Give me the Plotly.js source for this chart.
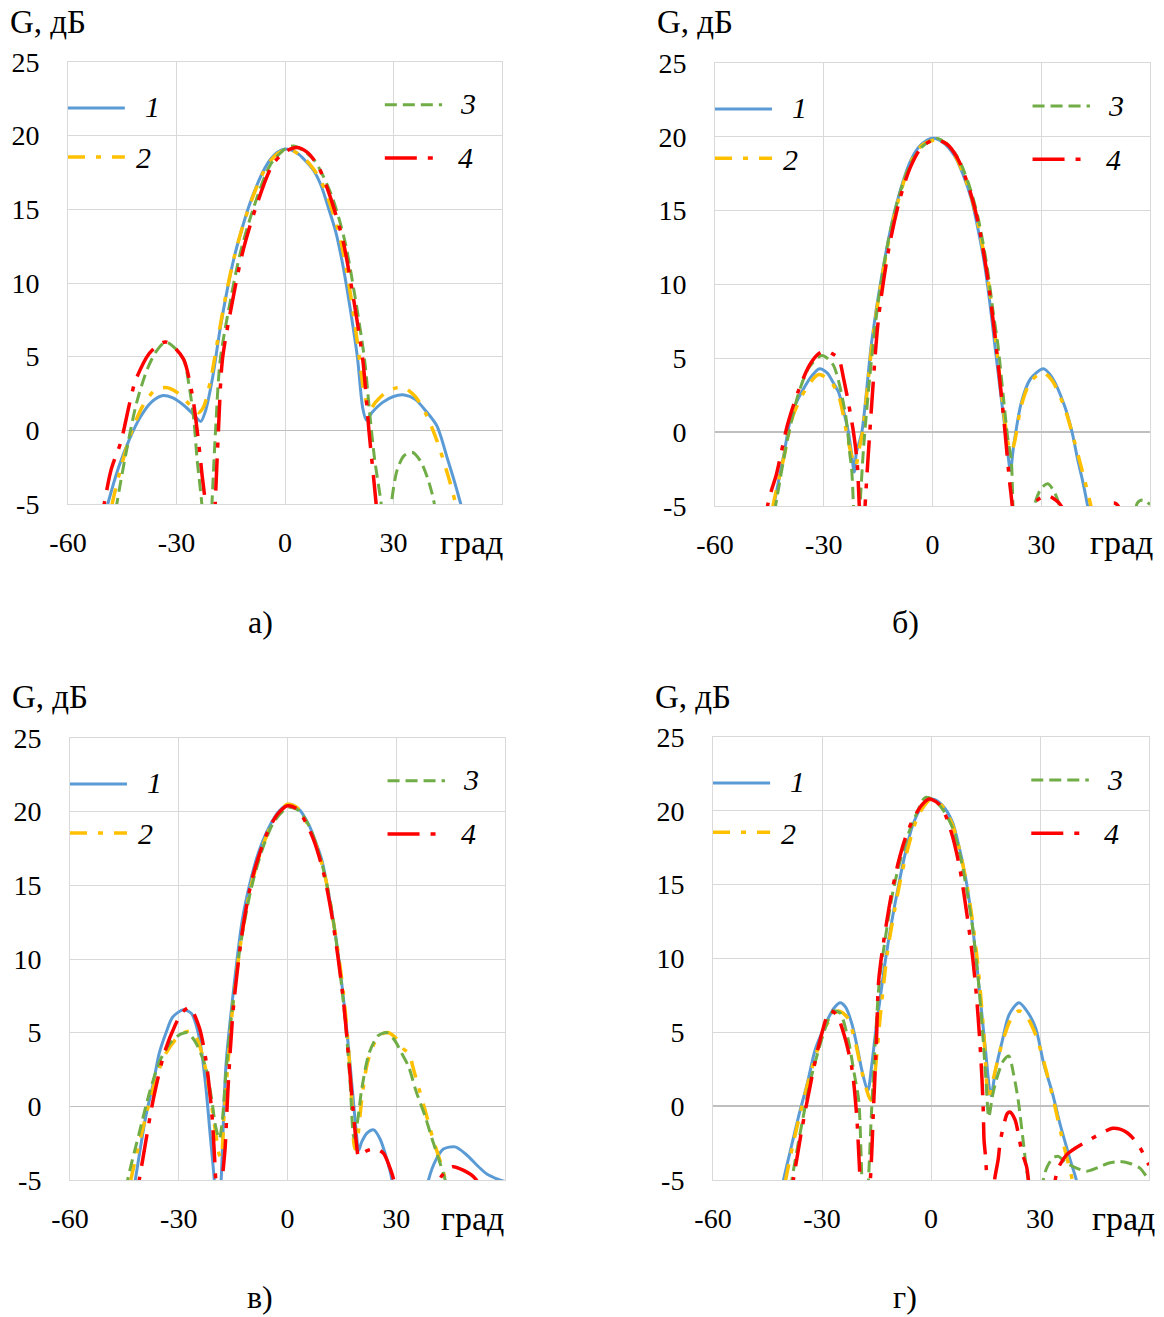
<!DOCTYPE html>
<html><head><meta charset="utf-8">
<script src="https://cdn.plot.ly/plotly-3.0.1.min.js"></script>
<style>html,body{margin:0;padding:0;background:#fff}#chart{width:1164px;height:1317px}</style>
</head><body><div id="chart"></div>
<script>
// ---- axis ticks ----
const xTickVals = [-60, -30, 0, 30];
const xTickText = ['-60', '-30', '0', '30'];
const yTickVals = [-5, 0, 5, 10, 15, 20, 25];
const yTickText = ['-5', '0', '5', '10', '15', '20', '25'];
const seriesLabels = ['1', '2', '3', '4'];
const panelLabels = ['а)', 'б)', 'в)', 'г)'];
const yTitle = 'G, дБ';
const xTitle = 'град';

// ---- panel a ----
const ang_a1 = [-52,-49,-46,-43,-40,-37,-34,-31,-28,-25,-23.3,-22,-20,-18,-16,-14,-12,-10,-8,-6,-4,-2,0,2,4,6,8,10,12,14,16,18,20,21.5,22.5,24,27,30,33,36,39,42,45,47,48.6,51];
const g_a1 = [-8,-5,-2.5,-0.6,0.9,1.9,2.35,2.2,1.7,1.0,0.6,1.3,3.6,6.8,9.5,11.8,13.6,15.2,16.5,17.6,18.4,18.9,19.1,19.0,18.7,18.2,17.6,16.6,15.1,13.5,11.2,8.3,5.0,1.5,0.7,1.2,1.9,2.3,2.4,2.1,1.3,0.3,-2.0,-3.6,-5,-7];
const ang_a2 = [-50,-47.8,-45,-42,-39,-36,-33,-30,-27,-25,-23.9,-22.5,-20.5,-18.5,-16,-14,-12,-10,-8,-6,-4,-2,0,2,4,6,8,10,12,14,16,18,20,22,23.4,25,28,31,33,36,39,42,45,47.2,50];
const g_a2 = [-8,-5,-2.2,0.2,1.8,2.7,2.9,2.6,1.9,1.4,1.2,1.6,3.5,6.3,9.6,11.8,13.6,15.1,16.4,17.5,18.3,18.8,19.0,19.0,18.7,18.3,17.7,16.9,15.7,14.2,12.2,9.4,6.0,2.4,1.4,1.9,2.6,2.9,2.9,2.3,1.1,-0.7,-3.0,-5,-8];
const ang_a3 = [-49,-46.5,-44,-41,-38,-35.5,-33,-30.5,-28,-26.5,-25.2,-24.3,-23,-22,-21,-20.2,-19.2,-17.9,-15.1,-12.4,-8.7,-4.1,0,2.3,5,8.2,12.8,16.5,19.2,22,23.4,24.8,26.6,28,29.4,31,33,35.3,37.5,39.5,41.3,43];
const g_a3 = [-9,-5,-1.6,1.9,4.2,5.4,6.0,5.6,4.8,3.0,0.7,-2,-5,-9,-9,-5,0,4.8,8.8,12,15.1,18,19.1,19.3,19.0,18.3,16,12.9,9.3,4.8,1.2,-2,-5,-9,-5,-2.7,-1.7,-1.5,-2.1,-3.3,-5,-9];
const ang_a4 = [-52,-50,-48,-45.4,-43,-41.3,-37.6,-35,-33,-30.5,-28,-25.7,-23.9,-22.9,-22,-21,-20,-19.3,-18.4,-17.3,-14.5,-11.8,-8.1,-3.5,0,3.2,6,9,12.3,16,18.7,21.5,23.2,25.2,26.5];
const g_a4 = [-8,-5,-2.6,-0.8,1.8,3.4,5.2,5.8,6.0,5.6,4.8,2.5,-0.8,-3.1,-5,-9,-9,-5,0,4.8,8.8,12,15.1,18,18.9,19.2,18.9,18.0,16,12.9,9.3,4.8,0,-5,-9];

// ---- panel b ----
const ang_b1 = [-46,-43.8,-41,-38.7,-35.1,-33,-31.2,-29,-27.5,-25.9,-24.5,-23.2,-22.3,-21.6,-21,-19.5,-16.8,-14,-10.3,-5.8,-3,0,3,6.1,8.5,10.7,12.6,14.4,15.8,17.1,18.5,19.9,20.8,21.5,22.4,24.5,27,30.6,33,36.4,38.5,40,41.5,42.8,45];
const g_b1 = [-8,-5,-1.5,1.35,3.15,3.9,4.3,4.0,3.4,2.7,1.4,0,-1.5,-2.7,-1.4,0,6.1,10.6,15.1,18.5,19.5,19.9,19.6,18.7,17.4,15.8,13.7,11.3,8.8,6.1,3.2,0.45,-1.5,-2.6,-0.9,2,3.6,4.3,3.7,1.8,0,-1.8,-3.4,-5,-8];
const ang_b2 = [-46,-44,-41,-38.5,-35,-31.4,-28,-25.8,-23.5,-22.2,-21.2,-20.3,-19.3,-16.6,-14,-10.3,-5.8,-3,1,4,6.5,9,11,13,14.8,16.2,17.5,18.9,20.2,21,21.8,22.7,24.5,27,30.4,33,36.5,39,41.5,43.7,46];
const g_b2 = [-8,-5,-1.7,1.1,2.9,3.9,3.4,2.4,-0.3,-1.7,-2.3,-1.2,0,6.1,10.4,14.9,18.4,19.4,19.8,19.5,18.6,17.2,15.7,13.6,11.2,8.8,6.1,3.0,0.3,-0.9,-1.3,-0.6,1.8,3.4,4.05,3.5,1.6,-0.5,-2.8,-5,-8];
const ang_b3 = [-46,-43.3,-40,-37,-34,-30.5,-27.5,-24.1,-22.8,-22.3,-21.8,-21,-20,-19,-17,-15,-12,-9,-6,-3,1.1,4,7,10,12.5,15,16.8,18,19.5,20.8,21.7,22.2,23,27,28.1,30,31.8,33.5,35,36,54,56.5,58,60];
const g_b3 = [-9,-5,-0.5,2.6,4.4,5.2,4.6,1.35,-1.5,-2.5,-5,-9,-5,-1,4.5,8.8,13.2,16.2,18.2,19.3,19.9,19.5,18.6,16.8,14.6,11.3,8.0,6.0,2.5,-0.5,-1.8,-5,-9,-9,-5,-3.8,-3.5,-4,-5,-9,-9,-4.8,-4.6,-4.9];
const ang_b4 = [-47,-45.5,-44.5,-43.1,-40,-37,-34,-31.5,-29.4,-27.5,-25.9,-24.5,-23.2,-21.8,-20.8,-20.2,-19.4,-18.6,-17.3,-14.9,-12,-9,-6,-3,0.5,4,7,10,12.5,15,17,18.8,20.2,21.2,22,23,26,27.5,29.5,31.8,34,35.5,37,47,48.8,50,51.2,53];
const g_b4 = [-8,-5,-4,-2.9,0.5,2.8,4.5,5.3,5.5,5.3,5.0,3.6,2.0,0,-2,-5,-9,-5,0,7.7,12.5,15.8,18,19.3,19.8,19.5,18.5,16.6,14.3,10.8,7.0,3.0,-0.5,-3.2,-5,-9,-9,-5,-4.5,-4.3,-4.6,-5,-9,-9,-5,-4.8,-5,-9];

// ---- panel c ----
const ang_c1 = [-44,-42,-39.1,-37,-35.4,-33.5,-31.7,-28.8,-26.5,-25.3,-24,-22.6,-21.3,-20.2,-19.3,-18.3,-17,-15.2,-12.5,-10,-7.9,-5,-2.5,0.4,3,5.9,8,9.5,11.5,13.2,14.7,16,17.2,18.3,19,19.6,20.5,22,23.8,25.5,27.3,28.8,30,37,38.9,41,43,46.2,49,52.7,55,58,60];
const g_c1 = [-8,-5,-0.7,1.6,3.6,5.0,6.05,6.55,6.3,5.6,4.2,1.5,-2,-5,-9,-5,2.7,7.2,12.6,15.5,17.3,19.0,20.0,20.5,20.2,19.1,17.8,16.7,14.2,11.7,8.9,6.05,3,0,-1.8,-3,-2.4,-1.8,-1.6,-2.2,-3.5,-5,-8,-8,-5,-3.6,-2.9,-2.75,-3.2,-4.1,-4.6,-4.95,-5.1];
const ang_c2 = [-45,-43.2,-40,-37,-34,-31,-28.5,-26.7,-25,-23,-21.5,-20,-18.8,-18.3,-17.6,-16.5,-15,-12.5,-10,-7.5,-5,-2.5,0,2.5,5,7.5,10,12,14,15.5,16.8,17.8,18.3,18.6,19.3,20.5,22,24,26,27.9,30,32,33.4,35,36.5,38,40,42.6,43.5,45];
const g_c2 = [-8,-5,-1.6,1.3,3.4,4.5,5.0,5.1,4.6,3.0,1.0,-1.5,-3.3,-3.5,-1,2.7,7.0,11.8,15,17.2,18.8,19.9,20.5,20.3,19.4,18,16,13.5,10.4,7.5,4,0,-2.5,-2.9,-2.2,0.5,2.9,4.3,4.9,5.0,4.6,3.9,3.6,2.3,1.0,-0.3,-2.1,-4.1,-5,-8];
const ang_c3 = [-46,-44.1,-41,-38,-35,-32,-29.5,-27.6,-25.5,-22.6,-21,-19.8,-18.8,-18,-17,-15.5,-13,-10,-7,-4,-1,0.5,3,6,9,11.5,13.5,15,16.3,17.3,18.3,19.2,20.5,22.5,25,27.4,29.5,31.5,33.4,35.5,38,40,42,43.5,45];
const g_c3 = [-8,-5,-1.9,1.0,3.2,4.4,4.9,5.0,4.4,2.7,0.6,-1.4,-2.2,-1,2.2,6.0,10.9,14.8,17.4,19.2,20.1,20.3,20.1,19.0,16.9,14.3,11.1,8.0,4.8,1.5,-2.1,-1.2,1.2,3.6,4.8,5.0,4.5,3.6,2.7,1.0,-0.7,-2.3,-3.8,-5,-8];
const ang_c4 = [-42.5,-40.9,-40,-37,-34,-31,-29,-27,-24.4,-22.6,-21.2,-20.6,-19.8,-19,-18,-17.2,-16.5,-15,-12.5,-10,-7.5,-5,-2.5,0,2.5,5,7.5,10,12,14,15.5,16.8,18,19,19.6,20.5,22,23.5,24.8,26.5,28,29.3,30.5,40,41.2,42.6,45.5,48.6,51.8,53];
const g_c4 = [-8,-5,-3.7,0.5,3.6,5.5,6.4,6.7,5.4,3.3,0.4,-1.4,-5,-9,-5,-2.8,0.8,6.5,11.8,15.2,17.3,18.9,19.9,20.4,20.2,19.3,17.9,15.8,13.3,10,7,3.5,0,-2.5,-3.4,-3.2,-3.0,-2.9,-2.9,-3.2,-4,-5,-8,-8,-5.5,-4.7,-4.1,-4.35,-4.9,-5.5];

// ---- panel d ----
const ang_d1 = [-43,-40.6,-38.5,-36.5,-34,-31.9,-30,-28.2,-26.5,-25,-23.5,-21.8,-20.3,-19,-17.4,-16.3,-15.3,-14,-12.6,-10.8,-8.9,-7,-5.2,-3,0.3,3,5.8,7.7,9.5,11,12.2,13.6,15,16.5,17.8,19.6,21.5,24.2,26.5,28.8,31,33.4,35.5,37,38.5,40,42];
const g_d1 = [-8,-5,-2.8,-0.75,1.6,3.8,5.0,6.0,6.7,7.0,6.7,5.6,4.0,2.4,1.05,2.8,4.9,7.3,9.8,12.5,15,17.2,18.9,20.1,20.8,20.4,19.3,17.6,15.5,13.1,10.5,7.2,3.8,0.7,2.5,4.4,6.2,7.0,6.4,5.3,2.9,0.9,-1.2,-2.5,-3.8,-5,-8];
const ang_d2 = [-42,-40,-38,-36,-33.5,-31,-28.5,-25.5,-23,-21,-19,-17,-16.3,-15.3,-14,-12,-10,-8,-6,-4,-2,0,2,4,6,8,10,11.5,13,14.5,15.9,17.3,19.5,22,24.2,26.5,29,31.5,34,36.5,38.9,41];
const g_d2 = [-8,-5,-2.6,-0.5,1.9,4.0,5.6,6.45,6.0,4.5,2.3,0.6,0.4,2.5,6.0,10.4,13.3,15.8,17.8,19.4,20.3,20.8,20.6,20.0,19.0,17.2,14.8,12.4,9.3,5.0,0.4,2.0,4.2,5.9,6.45,6.0,4.7,2.6,0.1,-2.6,-5,-8];
const ang_d3 = [-40,-38.3,-36,-33,-30,-28,-26.8,-25,-22.7,-21.2,-19.9,-19,-18,-17.2,-16.3,-15.3,-14.2,-12.5,-10.5,-8.5,-6,-4,-1.6,1,3.5,6,8,10,11.5,13,14.2,15.2,15.9,17,18.5,20,21.4,22.7,24,25.2,26.3,26.8,28,30,30.9,32,33.6,35,37,39.1,42.9,46.5,49,52,55,57.5,59.4,60];
const g_d3 = [-8,-5,-1.8,1.9,4.6,6.0,6.45,6.3,4.4,2.3,0.4,-5,-9,-5,0,4.5,8.5,11.5,14.5,16.6,18.6,19.8,20.9,20.7,20.0,18.8,17.0,14.4,12,8.6,5,1.5,-0.75,0.8,2.2,3.1,3.4,2.2,0.4,-2,-4.3,-5,-9,-9,-5,-4.1,-3.5,-3.4,-3.8,-4.1,-4.4,-4.1,-3.85,-3.75,-3.9,-4.2,-4.8,-5];
const ang_d4 = [-40,-37.9,-35.5,-33,-30.5,-27.8,-26,-24,-21.8,-20.5,-19.5,-18.3,-16.7,-15.8,-15,-14.4,-13,-11,-9,-7,-5,-2.5,-0.5,2,4,6,8,10,11.5,12.5,13.3,14,14.4,14.6,15,15.4,16.5,17.5,18.5,19,19.9,21,21.7,23.1,24.1,25,26.3,26.8,28,33,34.2,35,37.3,40,44.2,47.9,50,52,54,55.7,57.5,59.8,60];
const g_d4 = [-8,-5,-1.5,1.7,4.5,6.45,6.2,4.9,2.6,-0.5,-5,-9,-5,0,4.5,8.5,11.2,14.2,16.5,18.2,19.4,20.4,20.8,20.5,19.7,18.2,16.0,12.8,10.0,7.5,4.9,2.0,-0.4,-2.3,-3.4,-5,-9,-5,-3.6,-2.5,-1.4,-0.5,-0.4,-0.9,-1.95,-3.1,-4.1,-5,-9,-9,-5,-4.2,-3.3,-2.8,-2.2,-1.7,-1.5,-1.55,-1.8,-2.2,-2.8,-3.9,-4];

// ---- styling ----
const FONT = 'Liberation Serif, serif';
const W = 1164, H = 1317;
const colors = ['#5B9BD5', '#FFC000', '#70AD47', '#FF0000'];
const dashes = ['solid', '17px,11px,5px,11px', '12px,6px', '32px,11px,5px,11px'];
const widths = [3, 3.5, 3, 3.5];

const panels = [
  {angs: [ang_a1, ang_a2, ang_a3, ang_a4], gains: [g_a1, g_a2, g_a3, g_a4], px: [68, 502], py: [62, 504], yt: [8, 22], xt: [505, 543], lab: [260, 622]},
  {angs: [ang_b1, ang_b2, ang_b3, ang_b4], gains: [g_b1, g_b2, g_b3, g_b4], px: [715, 1150], py: [63, 506], yt: [655, 22], xt: [1155, 543], lab: [905, 622]},
  {angs: [ang_c1, ang_c2, ang_c3, ang_c4], gains: [g_c1, g_c2, g_c3, g_c4], px: [70, 505], py: [738, 1180], yt: [10, 697], xt: [506, 1218], lab: [260, 1297]},
  {angs: [ang_d1, ang_d2, ang_d3, ang_d4], gains: [g_d1, g_d2, g_d3, g_d4], px: [713, 1149], py: [737, 1180], yt: [653, 697], xt: [1157, 1218], lab: [905, 1297]}
];

// legend placement (fractions of each plot area)
const legLine = [[0, 0.131, 0.896], [0, 0.131, 0.785], [0.730, 0.862, 0.903], [0.730, 0.862, 0.783]];
const legText = [[0.194, 0.900], [0.173, 0.783], [0.922, 0.905], [0.915, 0.783]];

const traces = [], annotations = [], shapes = [];
const layout = {
  width: W, height: H, margin: {l: 0, r: 0, t: 0, b: 0},
  paper_bgcolor: '#fff', plot_bgcolor: '#fff', showlegend: false,
  font: {family: FONT, color: '#000', size: 28}
};

panels.forEach((p, i) => {
  const n = i === 0 ? '' : String(i + 1);
  const xk = 'x' + n, yk = 'y' + n;
  p.angs.forEach((a, s) => {
    traces.push({
      type: 'scatter', mode: 'lines', x: a, y: p.gains[s], name: seriesLabels[s],
      xaxis: xk, yaxis: yk, hoverinfo: 'skip',
      line: {color: colors[s], width: widths[s], dash: dashes[s], shape: 'spline', smoothing: 0.8}
    });
  });
  const xdom = [p.px[0] / W, p.px[1] / W];
  const ydom = [1 - p.py[1] / H, 1 - p.py[0] / H];
  const common = {
    showgrid: true, gridcolor: '#d9d9d9', gridwidth: 1,
    showline: true, mirror: true, linecolor: '#d9d9d9', linewidth: 1,
    ticks: 'outside', tickcolor: 'rgba(0,0,0,0)', fixedrange: true,
    tickfont: {family: FONT, size: 28, color: '#000'}
  };
  layout['xaxis' + n] = Object.assign({}, common, {
    domain: xdom, anchor: yk, range: [-60, 60], tickmode: 'array',
    tickvals: xTickVals, ticktext: xTickText, zeroline: false, ticklen: 13
  });
  layout['yaxis' + n] = Object.assign({}, common, {
    domain: ydom, anchor: xk, range: [-5, 25], tickmode: 'array',
    tickvals: yTickVals, ticktext: yTickText, zeroline: true,
    zerolinecolor: '#bfbfbf', zerolinewidth: 1.5, ticklen: 22
  });
  // axis titles
  annotations.push({xref: 'paper', yref: 'paper', x: p.yt[0] / W, y: 1 - p.yt[1] / H,
    xanchor: 'left', yanchor: 'middle', text: yTitle, showarrow: false,
    font: {family: FONT, size: 33, color: '#000'}});
  annotations.push({xref: 'paper', yref: 'paper', x: p.xt[0] / W, y: 1 - p.xt[1] / H,
    xanchor: 'right', yanchor: 'middle', text: xTitle, showarrow: false,
    font: {family: FONT, size: 34, color: '#000'}});
  annotations.push({xref: 'paper', yref: 'paper', x: p.lab[0] / W, y: 1 - p.lab[1] / H,
    xanchor: 'center', yanchor: 'middle', text: panelLabels[i], showarrow: false,
    font: {family: FONT, size: 32, color: '#000'}});
  // legend
  for (let s = 0; s < 4; s++) {
    shapes.push({type: 'line', xref: xk + ' domain', yref: yk + ' domain',
      x0: legLine[s][0], x1: legLine[s][1], y0: legLine[s][2], y1: legLine[s][2],
      line: {color: colors[s], width: widths[s], dash: dashes[s]}});
    annotations.push({xref: xk + ' domain', yref: yk + ' domain', x: legText[s][0], y: legText[s][1],
      xanchor: 'center', yanchor: 'middle', text: '<i>' + seriesLabels[s] + '</i>', showarrow: false,
      font: {family: FONT, size: 30, color: '#000'}});
  }
});
layout.annotations = annotations;
layout.shapes = shapes;

Plotly.newPlot('chart', traces, layout, {staticPlot: true, displayModeBar: false});
</script>
</body></html>
